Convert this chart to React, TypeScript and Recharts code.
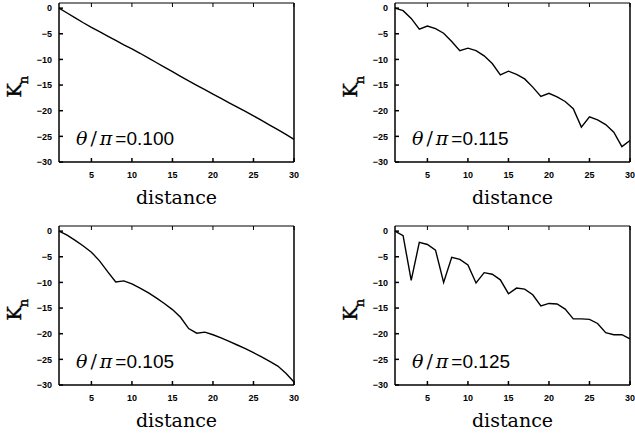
import React from 'react';
import { LineChart, Line, XAxis, YAxis, Label } from 'recharts';

// distance (x) values
const distance = [
  1, 2, 3, 4, 5, 6, 7, 8, 9, 10, 11, 12, 13, 14, 15,
  16, 17, 18, 19, 20, 21, 22, 23, 24, 25, 26, 27, 28, 29, 30,
];

// K_n values
const kn100 = [
  0, -0.95, -1.9, -2.85, -3.75, -4.6, -5.45, -6.3, -7.15, -7.95,
  -8.8, -9.7, -10.6, -11.5, -12.4, -13.3, -14.2, -15.05, -15.9, -16.75,
  -17.6, -18.45, -19.3, -20.15, -21.0, -21.9, -22.8, -23.7, -24.6, -25.6,
];
const kn115 = [
  0, -0.5, -2.0, -4.1, -3.5, -4.0, -4.9, -6.5, -8.3, -7.8,
  -8.3, -9.3, -10.8, -13.0, -12.3, -12.9, -13.8, -15.4, -17.2, -16.6,
  -17.3, -18.2, -19.6, -23.2, -21.2, -21.8, -22.7, -24.2, -27.0, -25.8,
];
const kn105 = [
  0, -0.8, -1.8, -2.9, -4.1, -5.8, -7.9, -9.9, -9.7, -10.3,
  -11.1, -12.0, -13.0, -14.1, -15.3, -16.8, -19.0, -19.9, -19.7, -20.2,
  -20.8, -21.5, -22.2, -22.9, -23.7, -24.5, -25.4, -26.3, -27.7, -29.4,
];
const kn125 = [
  0, -0.9, -9.6, -2.2, -2.6, -3.7, -10.0, -5.1, -5.5, -6.6,
  -10.1, -8.1, -8.4, -9.5, -12.2, -11.1, -11.3, -12.4, -14.6, -14.1,
  -14.2, -15.2, -17.1, -17.1, -17.2, -18.0, -19.8, -20.2, -20.2, -21.0,
];

const thetaLabels = ['0.100', '0.115', '0.105', '0.125'];
const xTicks = [5, 10, 15, 20, 25, 30];
const yTicks = [0, -5, -10, -15, -20, -25, -30];
const xLabel = 'distance';

const PLOT_H = 159;
const tickFont = {
  fill: '#000',
  stroke: 'none',
  fontSize: 9,
  fontWeight: 'bold' as const,
  fontFamily: 'Liberation Sans, Arial, sans-serif',
};

const fmt = (v: number) => (v < 0 ? '\u2212' + Math.abs(v) : String(v));

function XTick(p: any) {
  return (
    <text x={p.x} y={p.y} dy="0.71em" textAnchor="middle" {...tickFont}>
      {fmt(p.payload.value)}
    </text>
  );
}
function YTick(p: any) {
  return (
    <text x={p.x} y={p.y} dy="0.355em" textAnchor="end" {...tickFont}>
      {fmt(p.payload.value)}
    </text>
  );
}
function NoTick() {
  return <g />;
}

function DistanceLabel(props: any) {
  const vb = props.viewBox || {};
  return (
    <text
      x={vb.x + vb.width / 2}
      y={vb.y + 42}
      textAnchor="middle"
      fill="#000"
      stroke="none"
      fontSize={19}
      fontFamily="DejaVu Serif, serif"
    >
      {xLabel}
    </text>
  );
}

function makeThetaLabel(theta: string) {
  return function ThetaLabel(props: any) {
    const vb = props.viewBox || {};
    return (
      <text x={vb.x + 17} y={vb.y - 17} fill="#000" stroke="none" fontSize={19}>
        <tspan fontFamily="DejaVu Serif, serif" fontStyle="italic">θ</tspan>
        <tspan fontFamily="DejaVu Serif, serif" dx={3}>/</tspan>
        <tspan fontFamily="DejaVu Serif, serif" fontStyle="italic" dx={3}>π</tspan>
        <tspan fontFamily="Liberation Sans, Arial, sans-serif" dx={3}>={theta}</tspan>
      </text>
    );
  };
}

function KnLabel(props: any) {
  const vb = props.viewBox || {};
  const x = 21;
  const y = vb.y + vb.height / 2 + 15;
  return (
    <text
      transform={`translate(${x}, ${y}) rotate(-90)`}
      fill="#000"
      stroke="#000"
      strokeWidth={0.4}
      fontFamily="DejaVu Serif, serif"
    >
      <tspan fontSize={19}>K</tspan>
      <tspan fontSize={13} dx={-1} dy={7}>n</tspan>
    </text>
  );
}

type PanelProps = {
  values: number[];
  theta: string;
  left: number;
  top: number;
  height: number;
  marginTop: number;
};

function Panel({ values, theta, left, top, height, marginTop }: PanelProps) {
  const data = distance.map((d, i) => ({ d, k: values[i] }));
  const axisH = height - marginTop - 1 - PLOT_H;
  return (
    <div style={{ position: 'absolute', left, top }}>
      <LineChart
        width={300}
        height={height}
        data={data}
        margin={{ top: marginTop, right: 5, bottom: 0, left: 0 }}
      >
        <XAxis
          xAxisId="b"
          dataKey="d"
          type="number"
          domain={[1, 30]}
          ticks={xTicks}
          interval={0}
          height={axisH}
          tickSize={-4}
          tickMargin={14}
          stroke="#000"
          strokeWidth={1.5}
          tick={XTick}
        >
          <Label content={DistanceLabel} />
          <Label content={makeThetaLabel(theta)} />
        </XAxis>
        <XAxis
          xAxisId="t"
          orientation="top"
          dataKey="d"
          type="number"
          domain={[1, 30]}
          ticks={xTicks}
          interval={0}
          height={1}
          tickSize={-4}
          stroke="#000"
          strokeWidth={1}
          tick={NoTick}
        />
        <YAxis
          yAxisId="l"
          type="number"
          domain={[-30, 1]}
          ticks={yTicks}
          interval={0}
          width={59}
          tickSize={-4}
          tickMargin={11}
          stroke="#000"
          strokeWidth={1.5}
          tick={YTick}
        >
          <Label content={KnLabel} />
        </YAxis>
        <YAxis
          yAxisId="r"
          orientation="right"
          type="number"
          domain={[-30, 1]}
          ticks={yTicks}
          interval={0}
          width={1}
          tickSize={-4}
          stroke="#000"
          strokeWidth={1.5}
          tick={NoTick}
        />
        <Line
          xAxisId="b"
          yAxisId="l"
          type="linear"
          dataKey="k"
          stroke="#000"
          strokeWidth={1.4}
          dot={false}
          isAnimationActive={false}
        />
      </LineChart>
    </div>
  );
}

export default function App() {
  return (
    <div
      style={{
        position: 'absolute',
        left: 0,
        top: 0,
        width: 635,
        height: 434,
        background: '#fff',
        overflow: 'hidden',
      }}
    >
      <Panel values={kn100} theta={thetaLabels[0]} left={0} top={0} height={215} marginTop={2} />
      <Panel values={kn115} theta={thetaLabels[1]} left={336} top={0} height={215} marginTop={2} />
      <Panel values={kn105} theta={thetaLabels[2]} left={0} top={222} height={212} marginTop={3} />
      <Panel values={kn125} theta={thetaLabels[3]} left={336} top={222} height={212} marginTop={3} />
    </div>
  );
}
